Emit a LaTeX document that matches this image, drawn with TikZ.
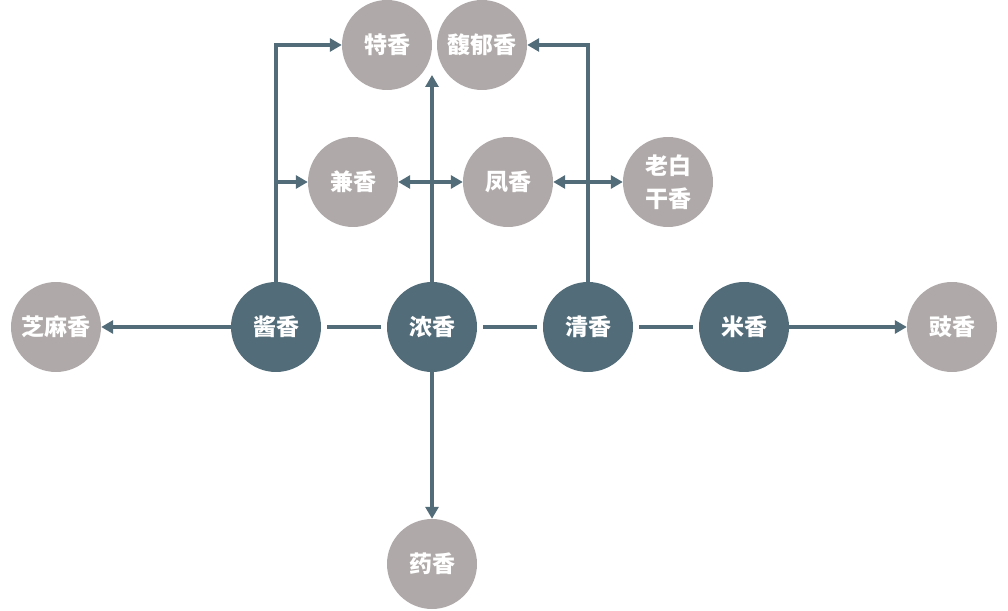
\documentclass[tikz,border=0pt]{standalone}
\usepackage{fontspec}
\newfontfamily\cjk{Noto Sans CJK SC}
\usetikzlibrary{arrows.meta}
\definecolor{darkblue}{HTML}{526C79}
\definecolor{lightgray}{HTML}{AFAAA9}

\begin{document}
\begin{tikzpicture}[x=1pt,y=1pt,
  mainnode/.style={circle,fill=darkblue,minimum size=90pt,inner sep=0pt,text=white,font=\cjk\bfseries\fontsize{23}{33}\selectfont,align=center},
  subnode/.style={mainnode,fill=lightgray},
  link/.style={line width=4pt,darkblue,shorten <=6pt,shorten >=6pt},
  arr/.style={line width=4pt,darkblue,-{Triangle[length=12pt,width=13pt]}},
  dblarr/.style={line width=4pt,darkblue,{Triangle[length=12pt,width=13pt]}-{Triangle[length=12pt,width=13pt]}}]
\useasboundingbox (0,0) rectangle (1008,610);

%draw main row
\node[mainnode] (jiang) at (276,283) {酱香};
\node[mainnode] (nong) at (432,283) {浓香};
\node[mainnode] (qing) at (588,283) {清香};
\node[mainnode] (mi) at (744,283) {米香};

%draw derived types
\node[subnode] (zhima) at (56,283) {芝麻香};
\node[subnode] (chi) at (952,283) {豉香};
\node[subnode] (te) at (387,565) {特香};
\node[subnode] (fuyu) at (482,565) {馥郁香};
\node[subnode] (jian) at (353,428) {兼香};
\node[subnode] (feng) at (508,428) {凤香};
\node[subnode] (laobai) at (668,428) {老白\\干香};
\node[subnode] (yao) at (432,46) {药香};
\coordinate (uptip) at (432,535);

%draw links
\draw[link] (jiang) -- (nong);
\draw[link] (nong) -- (qing);
\draw[link] (qing) -- (mi);

%draw arrows
\draw[arr] (jiang) -- (zhima);
\draw[arr] (mi) -- (chi);
\draw[arr] (nong) -- (yao);
\draw[arr] (nong) -- (uptip);
\draw[arr] (jiang) |- (te);
\draw[arr] (jiang |- jian) -- (jian);
\draw[arr] (qing) |- (fuyu);
\draw[dblarr] (jian) -- (feng);
\draw[dblarr] (feng) -- (laobai);
\end{tikzpicture}
\end{document}
